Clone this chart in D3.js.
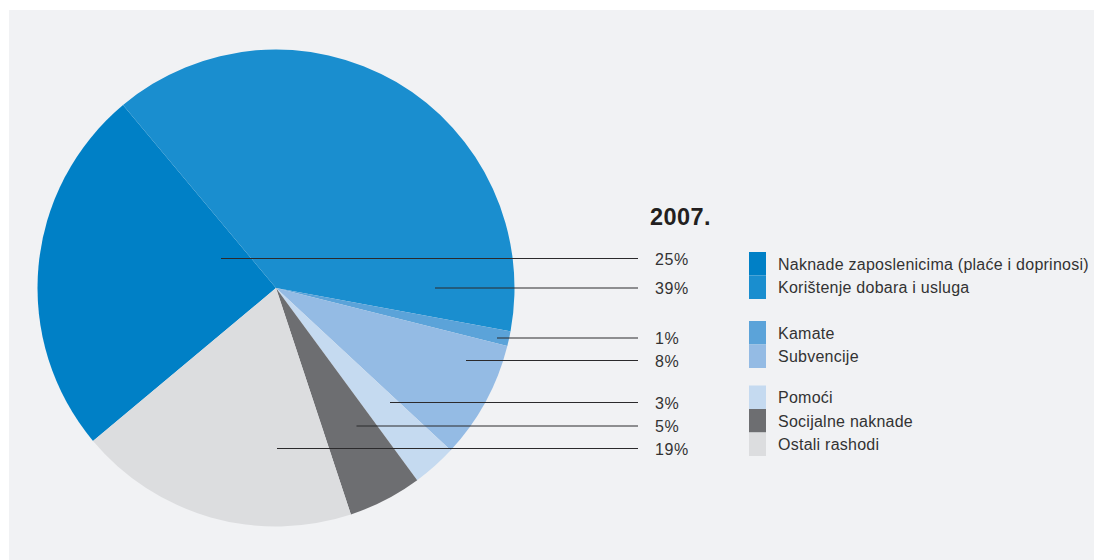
<!DOCTYPE html>
<html>
<head>
<meta charset="utf-8">
<script src="https://cdn.jsdelivr.net/npm/d3@7"></script>
<style>
  html, body { margin: 0; padding: 0; background: #ffffff; }
  svg { display: block; font-family: "Liberation Sans", Arial, sans-serif; }
</style>
</head>
<body>
<div id="chart"></div>
<script>
(function() {
    let w = 1094;
    let h = 560;

    // data for 2007.
    let categories = ["Naknade zaposlenicima (plaće i doprinosi)", "Korištenje dobara i usluga",
        "Kamate", "Subvencije", "Pomoći", "Socijalne naknade", "Ostali rashodi"];
    let values = [25, 39, 1, 8, 3, 5, 19];
    let pctLabels = ["25%", "39%", "1%", "8%", "3%", "5%", "19%"];
    let colors = ["#0080c6", "#1a8ecf", "#5ba3d9", "#94bbe4", "#c5daf0", "#6d6e71", "#dcdddf"];
    let legendGroups = [[0, 1], [2, 3], [4, 5, 6]];

    let cx = 276, cy = 288, r = 238.5;
    let startDeg = 230.1;

    let svg = d3.select("#chart")
        .append("svg")
        .attr("width", w)
        .attr("height", h);

    svg.append("rect")
        .attr("x", 9).attr("y", 10)
        .attr("width", w - 9).attr("height", h - 10)
        .attr("fill", "#f1f2f4");

    let pie = d3.pie()
        .sort(null)
        .value((d) => d)
        .startAngle(startDeg * Math.PI / 180)
        .endAngle(startDeg * Math.PI / 180 + 2 * Math.PI);

    let arcs = pie(values);
    let arc = d3.arc().innerRadius(0).outerRadius(r);

    let g = svg.append("g").attr("transform", "translate(" + cx + "," + cy + ")");
    g.selectAll("path")
        .data(arcs)
        .enter()
        .append("path")
        .attr("d", arc)
        .attr("fill", (d, i) => colors[i]);

    // leader lines: y position and left start (x)
    let lineY = [258.5, 288, 338, 360.5, 402.5, 426, 448.5];
    let lineX = [221, 435, 497, 466, 390, 356.5, 277];
    let lineEnd = 638;

    svg.selectAll("line.leader")
        .data(values)
        .enter()
        .append("line")
        .attr("class", "leader")
        .attr("x1", (d, i) => lineX[i])
        .attr("x2", lineEnd)
        .attr("y1", (d, i) => lineY[i])
        .attr("y2", (d, i) => lineY[i])
        .attr("stroke", "#2b2a2c")
        .attr("stroke-width", 1);

    svg.selectAll("text.pct")
        .data(pctLabels)
        .enter()
        .append("text")
        .attr("class", "pct")
        .attr("x", 655)
        .attr("y", (d, i) => lineY[i] + 6)
        .attr("font-size", 16)
        .attr("letter-spacing", 0.6)
        .attr("fill", "#333333")
        .text((d) => d);

    svg.append("text")
        .attr("x", 650)
        .attr("y", 225)
        .attr("font-size", 23.5)
        .attr("font-weight", "bold")
        .attr("letter-spacing", 0.4)
        .attr("fill", "#231f20")
        .text("2007.");

    // legend
    let groupTop = [252, 321, 385.5];
    let rowH = 23.5;
    let legend = svg.append("g");
    legendGroups.forEach((grp, gi) => {
        grp.forEach((ci, k) => {
            let y = groupTop[gi] + k * rowH;
            legend.append("rect")
                .attr("x", 749).attr("y", y)
                .attr("width", 17).attr("height", rowH)
                .attr("fill", colors[ci]);
            legend.append("text")
                .attr("x", 778)
                .attr("y", y + 17.5)
                .attr("font-size", 16)
                .attr("letter-spacing", 0.25)
                .attr("fill", "#333333")
                .text(categories[ci]);
        });
    });
})();
</script>
</body>
</html>
